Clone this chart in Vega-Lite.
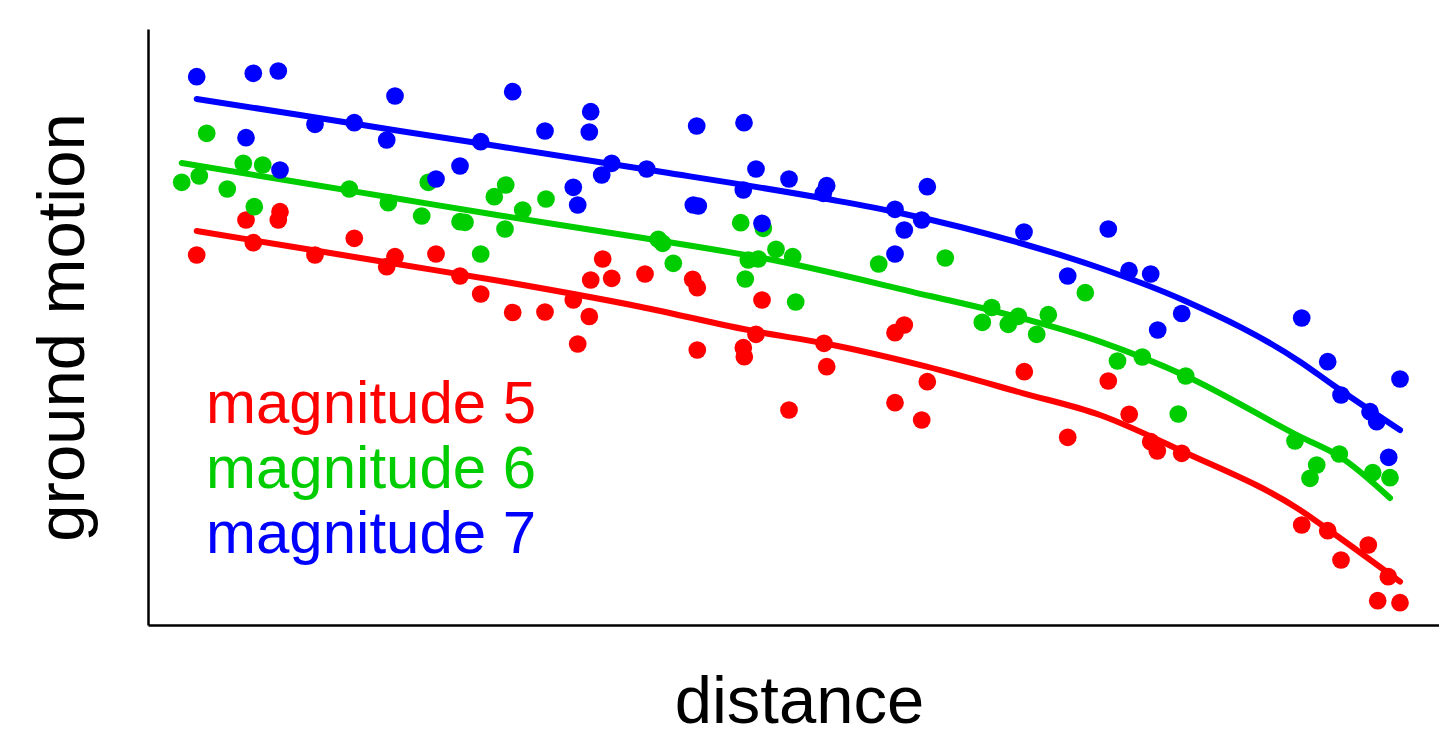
{
  "$schema": "https://vega.github.io/schema/vega-lite/v6.json",
  "width": 1291,
  "height": 596,
  "autosize": {"type": "none"},
  "padding": {"left": 148, "top": 29, "right": 0, "bottom": 109},
  "background": "white",
  "config": {
    "view": {"stroke": null},
    "axis": {"ticks": false, "labels": false, "grid": false, "domainColor": "#000000", "domainWidth": 2.5, "titleFont": "Liberation Sans", "titleFontWeight": "normal", "titleColor": "#000000"}
  },
  "datasets": {
    "pts": [
      {"m":"5","d":48.7,"g":370},{"m":"5","d":98,"g":405},{"m":"5","d":105.3,"g":382.3},{"m":"5","d":130.3,"g":405},{"m":"5","d":132,"g":413.3},
      {"m":"5","d":167,"g":370},{"m":"5","d":206.3,"g":386.7},{"m":"5","d":238.7,"g":358.3},{"m":"5","d":247,"g":368.3},{"m":"5","d":288,"g":371},
      {"m":"5","d":312,"g":349},{"m":"5","d":332.7,"g":331},{"m":"5","d":364.7,"g":312.5},{"m":"5","d":397,"g":313},{"m":"5","d":425.3,"g":325},
      {"m":"5","d":429.7,"g":281},{"m":"5","d":441.3,"g":308.5},{"m":"5","d":442.7,"g":345},{"m":"5","d":454.7,"g":366},{"m":"5","d":463.7,"g":346.7},
      {"m":"5","d":497,"g":351},{"m":"5","d":544.7,"g":345.7},{"m":"5","d":549.3,"g":337.3},{"m":"5","d":549.3,"g":275},{"m":"5","d":595.3,"g":277.3},
      {"m":"5","d":596.3,"g":268.3},{"m":"5","d":608,"g":290.7},{"m":"5","d":614,"g":325},{"m":"5","d":641,"g":215},{"m":"5","d":676,"g":281.7},
      {"m":"5","d":678.7,"g":258.3},{"m":"5","d":747,"g":292.3},{"m":"5","d":747,"g":222.3},{"m":"5","d":756.3,"g":300},{"m":"5","d":773.7,"g":205},
      {"m":"5","d":779.3,"g":243.3},{"m":"5","d":876.3,"g":253.3},{"m":"5","d":919.7,"g":187.7},{"m":"5","d":960.3,"g":244},{"m":"5","d":981.2,"g":210.7},
      {"m":"5","d":1002.7,"g":183.3},{"m":"5","d":1009.3,"g":174},{"m":"5","d":1033.7,"g":171.7},{"m":"5","d":1153.7,"g":100},{"m":"5","d":1179.7,"g":94.3},
      {"m":"5","d":1193,"g":65},{"m":"5","d":1220.3,"g":80},{"m":"5","d":1229.7,"g":24.3},{"m":"5","d":1240.3,"g":48.3},{"m":"5","d":1252,"g":22.3},
      {"m":"6","d":33.7,"g":442.7},{"m":"6","d":51.3,"g":449},{"m":"6","d":58.7,"g":491.7},{"m":"6","d":79.3,"g":436},{"m":"6","d":95.3,"g":461.7},
      {"m":"6","d":106.3,"g":418.3},{"m":"6","d":114.7,"g":460},{"m":"6","d":201.3,"g":436},{"m":"6","d":240.3,"g":422.3},{"m":"6","d":273.7,"g":409},
      {"m":"6","d":280.3,"g":442.7},{"m":"6","d":312,"g":403.3},{"m":"6","d":317,"g":402.7},{"m":"6","d":332.7,"g":371},{"m":"6","d":346.3,"g":428.3},
      {"m":"6","d":357,"g":396},{"m":"6","d":357.7,"g":440},{"m":"6","d":374.7,"g":415},{"m":"6","d":398,"g":426},{"m":"6","d":510.3,"g":385.7},
      {"m":"6","d":514.7,"g":381.7},{"m":"6","d":525.3,"g":361.7},{"m":"6","d":592.7,"g":402.3},{"m":"6","d":597.3,"g":346},{"m":"6","d":600.3,"g":365},
      {"m":"6","d":610.3,"g":366},{"m":"6","d":615.3,"g":396.7},{"m":"6","d":628,"g":375.7},{"m":"6","d":644.7,"g":368.3},{"m":"6","d":647.7,"g":323},
      {"m":"6","d":730.7,"g":361},{"m":"6","d":797.3,"g":367},{"m":"6","d":834.3,"g":302.7},{"m":"6","d":843.7,"g":317.5},{"m":"6","d":860.3,"g":300.7},
      {"m":"6","d":870.3,"g":308.7},{"m":"6","d":888.7,"g":290.7},{"m":"6","d":900.3,"g":310.3},{"m":"6","d":937.3,"g":332.3},{"m":"6","d":969.5,"g":264},
      {"m":"6","d":994.3,"g":268},{"m":"6","d":1030.3,"g":211},{"m":"6","d":1037.7,"g":249},{"m":"6","d":1147,"g":184},{"m":"6","d":1162,"g":146.7},
      {"m":"6","d":1168.7,"g":160},{"m":"6","d":1191.3,"g":171},{"m":"6","d":1224.7,"g":152.3},{"m":"6","d":1242,"g":147.3},
      {"m":"7","d":48.7,"g":548.3},{"m":"7","d":105.3,"g":551.7},{"m":"7","d":130.3,"g":554},{"m":"7","d":98,"g":487.3},{"m":"7","d":132,"g":455},
      {"m":"7","d":167,"g":500.7},{"m":"7","d":206.3,"g":502.3},{"m":"7","d":238.7,"g":485},{"m":"7","d":247,"g":529},{"m":"7","d":288,"g":446},
      {"m":"7","d":312,"g":459},{"m":"7","d":332.7,"g":483.3},{"m":"7","d":364.7,"g":533.3},{"m":"7","d":397,"g":494},{"m":"7","d":425.3,"g":437.7},
      {"m":"7","d":429.7,"g":420},{"m":"7","d":441.3,"g":493},{"m":"7","d":442.7,"g":513.3},{"m":"7","d":453.7,"g":450},{"m":"7","d":463.7,"g":461.7},
      {"m":"7","d":498.7,"g":456},{"m":"7","d":545.3,"g":420},{"m":"7","d":550.3,"g":419},{"m":"7","d":548.7,"g":499},{"m":"7","d":595.3,"g":435},
      {"m":"7","d":596,"g":502.3},{"m":"7","d":608,"g":456},{"m":"7","d":614,"g":401.7},{"m":"7","d":641,"g":446},{"m":"7","d":675.3,"g":431.7},
      {"m":"7","d":678.7,"g":439.3},{"m":"7","d":747,"g":415.7},{"m":"7","d":747,"g":371},{"m":"7","d":756.3,"g":395},{"m":"7","d":773.7,"g":405},
      {"m":"7","d":779.3,"g":438.3},{"m":"7","d":876,"g":393},{"m":"7","d":919.7,"g":349},{"m":"7","d":960.3,"g":396},{"m":"7","d":981,"g":354.3},
      {"m":"7","d":1002.7,"g":351},{"m":"7","d":1009.7,"g":295},{"m":"7","d":1033.7,"g":311.5},{"m":"7","d":1153.7,"g":307},{"m":"7","d":1179.7,"g":263.3},
      {"m":"7","d":1193,"g":230},{"m":"7","d":1222,"g":213.3},{"m":"7","d":1228.7,"g":203.3},{"m":"7","d":1240.7,"g":167.7},{"m":"7","d":1252,"g":246}
    ],
    "fit": [
      {"m":"5","d":48.7,"g":394},{"m":"5","d":152,"g":377},{"m":"5","d":252,"g":360.5},{"m":"5","d":352,"g":344},{"m":"5","d":492,"g":318.3},
      {"m":"5","d":608.7,"g":293.3},{"m":"5","d":676,"g":281.7},{"m":"5","d":778.7,"g":258.3},{"m":"5","d":875.3,"g":231.7},{"m":"5","d":952,"g":210},
      {"m":"5","d":1035.3,"g":173.3},{"m":"5","d":1152,"g":115},{"m":"5","d":1185.3,"g":91.7},{"m":"5","d":1252,"g":43.3},
      {"m":"6","d":33.7,"g":462},{"m":"6","d":152,"g":442.5},{"m":"6","d":252,"g":426},{"m":"6","d":352,"g":409.5},{"m":"6","d":492,"g":387.5},
      {"m":"6","d":625,"g":365},{"m":"6","d":782,"g":329},{"m":"6","d":842,"g":315},{"m":"6","d":952,"g":283.3},{"m":"6","d":1037.7,"g":249},
      {"m":"6","d":1152,"g":188.3},{"m":"6","d":1192,"g":168.3},{"m":"6","d":1242,"g":127},
      {"m":"7","d":48.7,"g":526},{"m":"7","d":152,"g":510},{"m":"7","d":252,"g":494},{"m":"7","d":352,"g":478.5},{"m":"7","d":492,"g":456.5},
      {"m":"7","d":679,"g":426},{"m":"7","d":752,"g":412},{"m":"7","d":872,"g":382},{"m":"7","d":952,"g":357},{"m":"7","d":1035,"g":325},
      {"m":"7","d":1152,"g":263.3},{"m":"7","d":1185,"g":240},{"m":"7","d":1252,"g":195}
    ],
    "labels": [
      {"m":"5","d":58,"g":202,"label":"magnitude 5"},
      {"m":"6","d":58,"g":137,"label":"magnitude 6"},
      {"m":"7","d":58,"g":72,"label":"magnitude 7"}
    ]
  },
  "encoding": {
    "x": {"field": "d", "type": "quantitative", "scale": {"domain": [0, 1291], "nice": false, "zero": false},
          "axis": {"title": "distance", "titleFontSize": 67, "titleBaseline": "alphabetic", "titlePadding": 97, "titleX": 651, "titleAlign": "center"}},
    "y": {"field": "g", "type": "quantitative", "scale": {"domain": [0, 596], "nice": false, "zero": false},
          "axis": {"title": "ground motion", "titleFontSize": 67, "titleBaseline": "alphabetic", "titlePadding": 64.5, "titleY": 298, "titleAngle": 270, "titleAlign": "center"}},
    "color": {"field": "m", "type": "nominal", "scale": {"domain": ["5", "6", "7"], "range": ["#FF0000", "#00CD00", "#0000FF"]}, "legend": null}
  },
  "layer": [
    {
      "data": {"values": [{"m": "5"}]},
      "mark": {"type": "rule", "strokeWidth": 2.5, "color": "#000000"},
      "encoding": {"x": {"datum": 0, "type": "quantitative"}, "x2": {"datum": 1291}, "y": {"datum": 596, "type": "quantitative"}, "color": {"value": "#000000"}}
    },
    {"data": {"name": "pts"}, "transform": [{"filter": "datum.m === '5'"}], "mark": {"type": "circle", "size": 314, "opacity": 1}},
    {"data": {"name": "fit"}, "transform": [{"filter": "datum.m === '5'"}], "mark": {"type": "line", "strokeWidth": 6, "strokeCap": "round", "strokeJoin": "round", "interpolate": "monotone"}},
    {"data": {"name": "pts"}, "transform": [{"filter": "datum.m === '6'"}], "mark": {"type": "circle", "size": 314, "opacity": 1}},
    {"data": {"name": "fit"}, "transform": [{"filter": "datum.m === '6'"}], "mark": {"type": "line", "strokeWidth": 6, "strokeCap": "round", "strokeJoin": "round", "interpolate": "monotone"}},
    {"data": {"name": "pts"}, "transform": [{"filter": "datum.m === '7'"}], "mark": {"type": "circle", "size": 314, "opacity": 1}},
    {"data": {"name": "fit"}, "transform": [{"filter": "datum.m === '7'"}], "mark": {"type": "line", "strokeWidth": 6, "strokeCap": "round", "strokeJoin": "round", "interpolate": "monotone"}},
    {
      "data": {"name": "labels"},
      "mark": {"type": "text", "align": "left", "baseline": "alphabetic", "font": "Liberation Sans", "fontSize": 60},
      "encoding": {"text": {"field": "label"}}
    }
  ]
}
